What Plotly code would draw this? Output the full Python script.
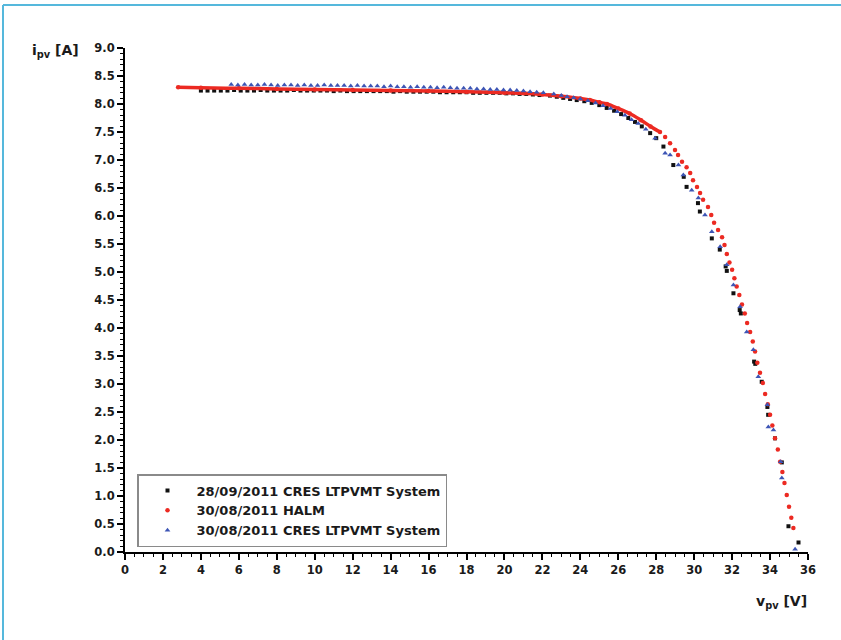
import plotly.graph_objects as go

# ---- data ----
# 28/09/2011 CRES LTPVMT System (black squares)
cres28_v = [4.0, 4.35, 4.7, 5.05, 5.4, 5.75, 6.1, 6.45, 6.8, 7.15, 7.5, 7.85, 8.2, 8.55, 8.9, 9.25,
            9.6, 9.95, 10.3, 10.65, 11.0, 11.35, 11.7, 12.05, 12.4, 12.75, 13.1, 13.45, 13.8, 14.15,
            14.5, 14.85, 15.2, 15.55, 15.9, 16.25, 16.6, 16.95, 17.3, 17.65, 18.0, 18.35, 18.7, 19.05,
            19.4, 19.75, 20.1, 20.45, 20.8, 21.15, 21.5, 21.85, 22.4, 22.76, 23.1, 23.46, 23.81,
            24.21, 24.6, 25.0, 25.39, 25.78, 26.15, 26.53, 26.88, 27.24, 27.68, 28.0, 28.38, 28.9,
            29.45, 29.6, 30.2, 30.3, 30.93, 31.35, 31.66, 31.72, 32.07, 32.4, 32.46, 33.16, 33.22,
            33.56, 33.86, 33.9, 34.26, 34.62, 34.97, 35.5]
cres28_i = [8.24, 8.24, 8.24, 8.24, 8.24, 8.25, 8.24, 8.24, 8.24, 8.25, 8.24, 8.24, 8.24, 8.24, 8.25, 8.24,
            8.24, 8.24, 8.24, 8.24, 8.23, 8.24, 8.23, 8.23, 8.23, 8.23, 8.23, 8.23, 8.23, 8.22,
            8.23, 8.22, 8.22, 8.22, 8.22, 8.22, 8.21, 8.21, 8.21, 8.21, 8.21, 8.20, 8.20, 8.20,
            8.20, 8.20, 8.19, 8.19, 8.18, 8.18, 8.17, 8.16, 8.15, 8.13, 8.11, 8.09, 8.07,
            8.05, 8.02, 7.98, 7.93, 7.88, 7.82, 7.75, 7.68, 7.60, 7.48, 7.39, 7.24, 6.91,
            6.70, 6.52, 6.23, 6.08, 5.60, 5.40, 5.10, 5.02, 4.62, 4.32, 4.26, 3.40, 3.36,
            3.04, 2.59, 2.45, 2.03, 1.60, 0.46, 0.17]

# 30/08/2011 HALM (red)
halm_v = [2.8, 4.0, 6.0, 8.0, 10.0, 12.0, 14.0, 16.0, 18.0, 20.0, 21.0, 22.0, 23.0, 24.0, 24.5,
          25.0, 25.4, 26.0, 26.6, 27.2, 27.7, 28.2, 28.47, 28.73, 28.99, 29.15, 29.36, 29.6,
          29.79, 29.94, 30.15, 30.31, 30.47, 30.73, 30.9, 31.05, 31.26, 31.47, 31.6, 31.72,
          31.86, 32.0, 32.12, 32.24, 32.38, 32.52, 32.67, 32.79, 32.95, 33.09, 33.21, 33.33,
          33.47, 33.62, 33.74, 33.88, 34.0, 34.12, 34.26, 34.41, 34.53, 34.65, 34.76, 34.88,
          35.0, 35.12, 35.23]
halm_i = [8.30, 8.29, 8.28, 8.27, 8.26, 8.25, 8.24, 8.23, 8.22, 8.20, 8.19, 8.17, 8.14, 8.10, 8.07,
          8.03, 8.00, 7.92, 7.83, 7.71, 7.60, 7.50, 7.41, 7.30, 7.18, 7.09, 6.97, 6.87,
          6.77, 6.64, 6.52, 6.41, 6.29, 6.16, 6.02, 5.88, 5.75, 5.62, 5.48, 5.32,
          5.17, 5.04, 4.89, 4.74, 4.59, 4.42, 4.26, 4.09, 3.93, 3.76, 3.58, 3.38,
          3.20, 3.02, 2.82, 2.64, 2.45, 2.26, 2.03, 1.83, 1.61, 1.43, 1.23, 1.02,
          0.81, 0.61, 0.43]
halm_dense_count = 22  # first points, so dense they read as a continuous line

# 30/08/2011 CRES LTPVMT System (blue triangles)
cres30_v = [5.6, 5.95, 6.3, 6.65, 7.0, 7.35, 7.7, 8.05, 8.4, 8.75, 9.1, 9.45, 9.8, 10.15, 10.5,
            10.85, 11.2, 11.55, 11.9, 12.25, 12.6, 12.95, 13.3, 13.65, 14.0, 14.35, 14.7, 15.05,
            15.4, 15.75, 16.1, 16.45, 16.8, 17.15, 17.5, 17.85, 18.2, 18.55, 18.9, 19.25, 19.6,
            19.95, 20.3, 20.65, 21.0, 21.35, 21.7, 22.05, 22.6, 23.0, 23.3, 23.65, 24.0, 24.4,
            24.8, 25.2, 25.6, 25.95, 26.35, 26.7, 27.05, 27.45, 27.94, 28.47, 28.73, 29.17,
            29.43, 29.87, 30.22, 30.57, 30.93, 31.37, 31.72, 32.07, 32.42, 32.77, 33.12, 33.38,
            33.86, 33.91, 34.18, 34.56, 34.62, 35.32]
cres30_i = [8.35, 8.34, 8.35, 8.34, 8.34, 8.35, 8.34, 8.33, 8.34, 8.34, 8.33, 8.34, 8.33, 8.33, 8.34,
            8.33, 8.33, 8.33, 8.32, 8.33, 8.32, 8.32, 8.32, 8.31, 8.32, 8.31, 8.31, 8.30,
            8.31, 8.30, 8.30, 8.29, 8.30, 8.29, 8.28, 8.28, 8.28, 8.27, 8.27, 8.26, 8.26,
            8.25, 8.25, 8.24, 8.23, 8.22, 8.21, 8.20, 8.18, 8.15, 8.13, 8.11, 8.09, 8.06,
            8.02, 7.97, 7.92, 7.86, 7.80, 7.72, 7.65, 7.55, 7.39, 7.12, 7.09, 6.91,
            6.73, 6.46, 6.32, 6.02, 5.72, 5.45, 5.13, 4.77, 4.38, 3.93, 3.61, 3.13,
            2.63, 2.23, 2.18, 1.61, 1.32, 0.05]

x_ticks = [0, 2, 4, 6, 8, 10, 12, 14, 16, 18, 20, 22, 24, 26, 28, 30, 32, 34, 36]
y_ticks = [0.0, 0.5, 1.0, 1.5, 2.0, 2.5, 3.0, 3.5, 4.0, 4.5, 5.0, 5.5, 6.0, 6.5, 7.0, 7.5, 8.0, 8.5, 9.0]

FONT = "DejaVu Sans"
RED = "#ec2a22"
BLUE = "#3d55b5"
BLACK = "#111111"

fig = go.Figure()
fig.add_trace(go.Scatter(
    x=cres28_v, y=cres28_i, mode="markers", name="28/09/2011 CRES LTPVMT System",
    marker=dict(symbol="square", size=4, color=BLACK)))
fig.add_trace(go.Scatter(
    x=halm_v[:halm_dense_count], y=halm_i[:halm_dense_count], mode="lines",
    line=dict(color=RED, width=3.5, shape="spline"), showlegend=False, hoverinfo="skip"))
fig.add_trace(go.Scatter(
    x=halm_v, y=halm_i, mode="markers", name="30/08/2011 HALM",
    marker=dict(symbol="circle", size=4.5, color=RED)))
fig.add_trace(go.Scatter(
    x=cres30_v, y=cres30_i, mode="markers", name="30/08/2011 CRES LTPVMT System",
    marker=dict(symbol="triangle-up", size=5, color=BLUE)))

L, R, T, B = 125, 33, 48, 88
W, H = 841, 640
pw, ph = W - L - R, H - T - B

def px_x(px):
    return (px - L) / pw

def px_y(py):
    return (H - B - py) / ph

axis_common = dict(
    showgrid=False, zeroline=False, showline=True, linecolor="black", linewidth=2,
    ticks="outside", ticklen=6, tickwidth=1.5, tickcolor="black",
    tickfont=dict(family=FONT, size=11.5, color="#1a1a1a", weight="bold"),
    mirror=False,
)

fig.update_layout(
    width=W, height=H,
    margin=dict(l=L, r=R, t=T, b=B),
    paper_bgcolor="white", plot_bgcolor="white",
    font=dict(family=FONT, color="#1a1a1a"),
    xaxis=dict(range=[0, 36], tickvals=x_ticks, ticktext=[str(v) for v in x_ticks],
               minor=dict(dtick=0.5, ticklen=3, ticks="outside", tickwidth=1.2, tickcolor="black"),
               **axis_common),
    yaxis=dict(range=[0, 9], tickvals=y_ticks, ticktext=[f"{v:.1f}" for v in y_ticks],
               minor=dict(dtick=0.1, ticklen=3, ticks="outside", tickwidth=1.2, tickcolor="black"),
               **axis_common),
    showlegend=True,
    legend=dict(x=px_x(137), y=px_y(474), xanchor="left", yanchor="top",
                bgcolor="white", bordercolor="#8a8a8a", borderwidth=1.5,
                font=dict(family=FONT, size=13, color="#1a1a1a", weight="bold"),
                tracegroupgap=0, itemsizing="trace", itemwidth=48),
    annotations=[
        dict(text="i<sub>pv</sub> [A]", xref="paper", yref="paper",
             x=px_x(30), y=px_y(51), xanchor="left", yanchor="middle", showarrow=False,
             font=dict(family=FONT, size=14, color="#1a1a1a", weight="bold")),
        dict(text="v<sub>pv</sub> [V]", xref="paper", yref="paper",
             x=px_x(809), y=px_y(602), xanchor="right", yanchor="middle", showarrow=False,
             font=dict(family=FONT, size=14, color="#1a1a1a", weight="bold")),
    ],
    shapes=[
        dict(type="line", xref="paper", yref="paper", x0=px_x(3), x1=px_x(841), y0=px_y(5), y1=px_y(5),
             line=dict(color="#55b8dc", width=2)),
        dict(type="line", xref="paper", yref="paper", x0=px_x(3), x1=px_x(3), y0=px_y(5), y1=px_y(640),
             line=dict(color="#55b8dc", width=2)),
    ],
)

fig.write_html("out.html", config={"displayModeBar": False},
               post_script="document.body.style.margin='0px';")
